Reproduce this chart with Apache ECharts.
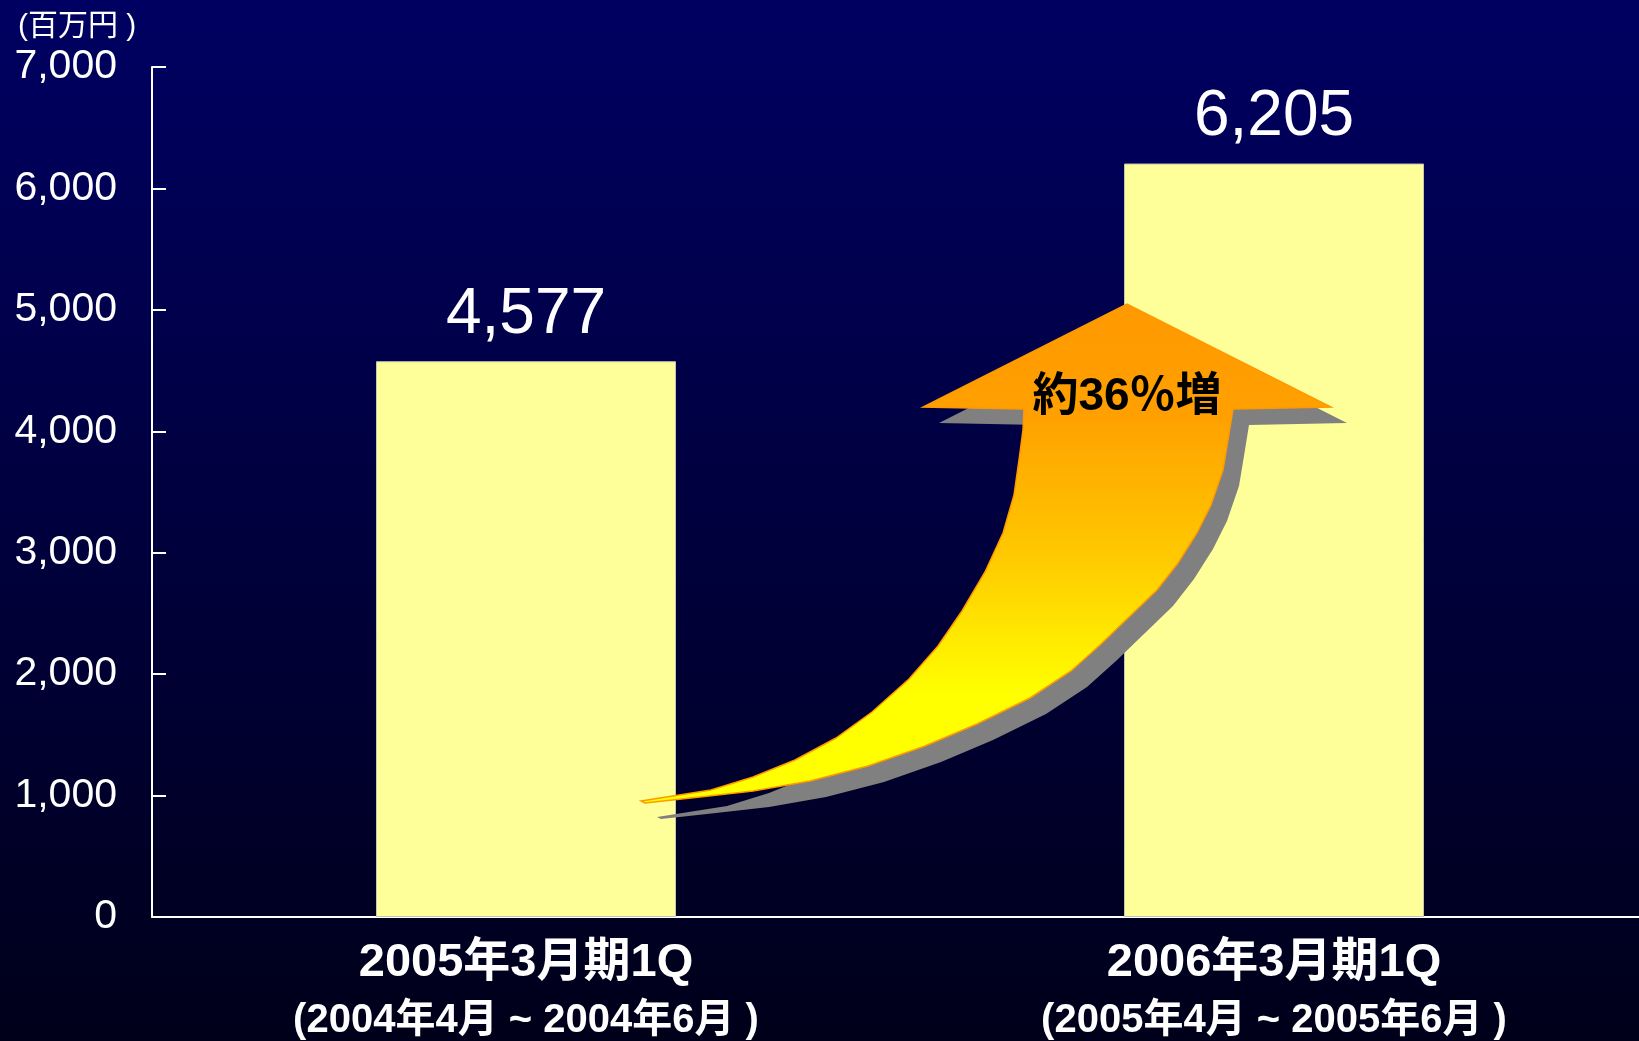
<!DOCTYPE html>
<html>
<head>
<meta charset="utf-8">
<script src="https://cdn.jsdelivr.net/npm/echarts@6/dist/echarts.min.js"></script>
<style>
  html, body { margin: 0; padding: 0; }
  #chart { width: 1639px; height: 1041px; }
</style>
</head>
<body>
<div id="chart"></div>
<script>
// データ
var categories = ['2005年3月期1Q', '2006年3月期1Q'];
var periods = ['(2004年4月 ~ 2004年6月 )', '(2005年4月 ~ 2005年6月 )'];
var sales = [4577, 6205];
var yMin = 0;
var yMax = 7000;
var yStep = 1000;
var growthText = '約36％増';

var fontBase = "'Liberation Sans', Arial, 'Noto Sans CJK JP', sans-serif";

function fmt (v) {
  return Number(v).toLocaleString('en-US');
}

// 矢印（装飾）の輪郭
var arrowPts = [
  [641, 801], [711, 790], [753, 777], [795, 760], [836, 738], [872, 712],
  [909, 679], [938, 646], [962, 611], [985, 572], [1003, 533], [1014, 495],
  [1019, 460], [1023, 430], [1024, 409],
  [923, 407], [1127, 304], [1331, 407],
  [1233, 409], [1228, 440], [1223, 470], [1211, 505], [1197, 533], [1178, 563],
  [1157, 590], [1129, 617], [1100, 645], [1071, 671], [1030, 698], [977, 724],
  [925, 746], [868, 766], [810, 781], [753, 791], [700, 797], [645, 803]
];
var shadowPts = arrowPts.map(function (p) { return [p[0] + 16, p[1] + 16]; });

var chart = echarts.init(document.getElementById('chart'));
var option = {
  backgroundColor: new echarts.graphic.LinearGradient(0, 0, 0, 1, [
    { offset: 0, color: '#000062' },
    { offset: 1, color: '#00001a' }
  ]),
  animation: false,
  title: {
    text: '(百万円 )',
    left: 13,
    top: 7,
    textStyle: {
      color: '#ffffff',
      fontSize: 30,
      fontWeight: 'normal',
      fontFamily: fontBase
    }
  },
  grid: {
    left: 152,
    right: -9,
    top: 67,
    bottom: 124,
    outerBoundsMode: 'none',
    containLabel: false
  },
  xAxis: {
    type: 'category',
    data: categories,
    axisLine: { lineStyle: { color: '#ffffff', width: 2 } },
    axisTick: { inside: true, length: 14, lineStyle: { color: '#ffffff', width: 1 } },
    axisLabel: {
      margin: 18,
      interval: 0,
      color: '#ffffff',
      formatter: function (val, idx) {
        return '{a|' + val + '}\n{b|' + periods[idx] + '}';
      },
      rich: {
        a: { fontSize: 47, fontWeight: 'bold', color: '#ffffff', fontFamily: fontBase, lineHeight: 57 },
        b: { fontSize: 40, fontWeight: 'bold', color: '#ffffff', fontFamily: fontBase, lineHeight: 57 }
      }
    }
  },
  yAxis: {
    type: 'value',
    min: yMin,
    max: yMax,
    interval: yStep,
    axisLine: { show: true, lineStyle: { color: '#ffffff', width: 2 } },
    axisTick: { show: true, inside: true, length: 14, lineStyle: { color: '#ffffff', width: 2 } },
    splitLine: { show: false },
    axisLabel: {
      margin: 35,
      color: '#ffffff',
      fontSize: 41,
      fontFamily: fontBase,
      padding: [6, 0, 0, 0],
      formatter: fmt
    }
  },
  series: [
    {
      type: 'bar',
      data: sales,
      barWidth: 300,
      itemStyle: {
        color: '#ffff99',
        borderColor: '#c4c4b8',
        borderWidth: 1
      },
      label: {
        show: true,
        position: 'top',
        distance: 14,
        color: '#ffffff',
        fontSize: 64,
        fontFamily: fontBase,
        formatter: function (p) { return fmt(p.value); }
      }
    }
  ],
  graphic: [
    {
      type: 'polygon',
      z: 100,
      shape: { points: shadowPts },
      style: { fill: '#808080' }
    },
    {
      type: 'polygon',
      z: 101,
      shape: { points: arrowPts },
      style: {
        fill: new echarts.graphic.LinearGradient(0, 0, 0, 1, [
          { offset: 0, color: '#ff9900' },
          { offset: 0.22, color: '#ffa000' },
          { offset: 0.5, color: '#ffc800' },
          { offset: 0.78, color: '#ffff00' },
          { offset: 1, color: '#ffff00' }
        ]),
        stroke: '#ff9900',
        lineWidth: 1.5
      }
    },
    {
      type: 'text',
      z: 102,
      x: 1127,
      y: 397,
      style: {
        text: growthText,
        fill: '#000000',
        font: "bold 46px 'Liberation Sans', 'Noto Sans CJK JP', sans-serif",
        textAlign: 'center',
        textVerticalAlign: 'middle'
      }
    }
  ]
};
option && chart.setOption(option);
</script>
</body>
</html>
